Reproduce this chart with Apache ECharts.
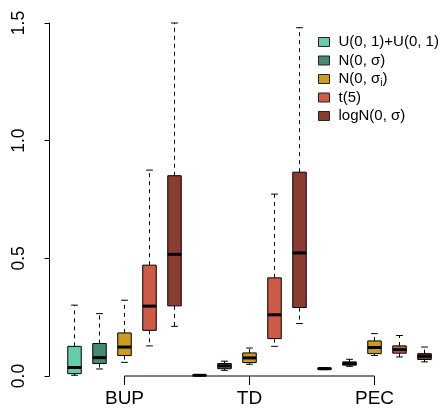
<!DOCTYPE html>
<html>
<head>
<meta charset="utf-8">
<script src="https://cdn.jsdelivr.net/npm/echarts@6/dist/echarts.min.js"></script>
<style>
  html, body { margin: 0; padding: 0; background: #fff; }
  #main { width: 443px; height: 410px; }
</style>
</head>
<body>
<div id="main"></div>
<script>
// groups on the x axis, five distributions per group
var groups = ['BUP', 'TD', 'PEC'];
var distNames = ['U(0, 1)+U(0, 1)', 'N(0, σ)', 'N(0, σi)', 't(5)', 'logN(0, σ)'];
var distColors = ['#66CDAA', '#458B74', '#CD9B1D', '#CD5B45', '#8B3C30'];

// [lower whisker, q1, median, q3, upper whisker] for BUP, TD, PEC
var statsU    = [[0.003, 0.010, 0.036, 0.126, 0.301], [0.001, 0.002, 0.003, 0.005, 0.006], [0.027, 0.029, 0.031, 0.034, 0.036]];
var statsN    = [[0.030, 0.053, 0.078, 0.138, 0.265], [0.024, 0.031, 0.043, 0.053, 0.063], [0.041, 0.046, 0.053, 0.060, 0.071]];
var statsNi   = [[0.058, 0.087, 0.123, 0.183, 0.322], [0.050, 0.057, 0.077, 0.098, 0.119], [0.087, 0.095, 0.121, 0.149, 0.180]];
var statsT    = [[0.128, 0.194, 0.297, 0.471, 0.875], [0.126, 0.159, 0.260, 0.417, 0.773], [0.081, 0.097, 0.112, 0.128, 0.172]];
var statsLogN = [[0.211, 0.298, 0.517, 0.851, 1.500], [0.223, 0.291, 0.523, 0.866, 1.480], [0.060, 0.070, 0.084, 0.095, 0.123]];
var allStats = [statsU, statsN, statsNi, statsT, statsLogN];

var nDist = distNames.length;
// box position on the x axis: 1..15
var groupCenters = groups.map(function (g, gi) { return gi * nDist + 3; });

var boxWidth = 0.54;
var fontFam = 'Liberation Sans, Arial, sans-serif';

var renderBox = function (params, api) {
  var x = api.value(0);
  var lo = api.coord([x, api.value(1)]);
  var q1 = api.coord([x, api.value(2)]);
  var med = api.coord([x, api.value(3)]);
  var q3 = api.coord([x, api.value(4)]);
  var hi = api.coord([x, api.value(5)]);
  var w = api.size([boxWidth, 0])[0];
  var cx = lo[0];
  var capW = w / 2;
  var dash = { stroke: '#000', lineWidth: 1, lineDash: [4, 4] };
  var solid = { stroke: '#000', lineWidth: 1 };
  return {
    type: 'group',
    children: [
      { type: 'line', shape: { x1: cx, y1: q3[1], x2: cx, y2: hi[1] }, style: dash },
      { type: 'line', shape: { x1: cx, y1: q1[1], x2: cx, y2: lo[1] }, style: dash },
      { type: 'line', shape: { x1: cx - capW / 2, y1: hi[1], x2: cx + capW / 2, y2: hi[1] }, style: solid },
      { type: 'line', shape: { x1: cx - capW / 2, y1: lo[1], x2: cx + capW / 2, y2: lo[1] }, style: solid },
      { type: 'rect', shape: { x: cx - w / 2, y: q3[1], width: w, height: q1[1] - q3[1] },
        style: { fill: api.visual('color'), stroke: '#000', lineWidth: 1 } },
      { type: 'line', shape: { x1: cx - w / 2, y1: med[1], x2: cx + w / 2, y2: med[1] },
        style: { stroke: '#000', lineWidth: 3 } }
    ]
  };
};

var series = distNames.map(function (name, di) {
  return {
    name: name,
    type: 'custom',
    color: distColors[di],
    clip: false,
    renderItem: renderBox,
    encode: { x: 0, y: [1, 2, 3, 4, 5] },
    data: allStats[di].map(function (s, gi) {
      return [gi * nDist + di + 1].concat(s);
    })
  };
});

// x axis line only spans from the first to the last group label, as in base R
series.push({
  type: 'line',
  silent: true,
  clip: false,
  symbol: 'none',
  lineStyle: { color: '#000', width: 1 },
  data: [[groupCenters[0], 0], [groupCenters[groupCenters.length - 1], 0]]
});

var chart = echarts.init(document.getElementById('main'));
chart.setOption({
  animation: false,
  backgroundColor: '#fff',
  grid: { left: 43, right: 0, top: 23, bottom: 34, containLabel: false },
  xAxis: {
    type: 'value',
    min: -0.26,
    max: 15.74,
    splitLine: { show: false },
    axisLine: { show: false },
    axisTick: { show: true, customValues: groupCenters, length: 9, lineStyle: { color: '#000' } },
    axisLabel: {
      customValues: groupCenters,
      margin: 13,
      color: '#000',
      fontSize: 19,
      fontFamily: fontFam,
      formatter: function (v) { return groups[groupCenters.indexOf(v)] || ''; }
    }
  },
  yAxis: {
    type: 'value',
    min: 0,
    max: 1.5,
    interval: 0.5,
    splitLine: { show: false },
    axisLine: { show: true, lineStyle: { color: '#000' } },
    axisTick: { show: true, length: 5, lineStyle: { color: '#000' } },
    axisLabel: {
      rotate: 90,
      margin: 15,
      color: '#000',
      fontSize: 17.5,
      fontFamily: fontFam,
      formatter: function (v) { return v.toFixed(1); }
    }
  },
  legend: {
    orient: 'vertical',
    left: 313,
    top: 28,
    itemWidth: 11,
    itemHeight: 9,
    itemGap: 0.5,
    icon: 'rect',
    data: distNames,
    itemStyle: { borderColor: '#222', borderWidth: 1 },
    textStyle: {
      color: '#000',
      fontSize: 15,
      lineHeight: 18,
      fontFamily: fontFam,
      padding: [0, 0, 0, 4],
      rich: {
        sub: { fontSize: 10, lineHeight: 18, verticalAlign: 'bottom', fontFamily: fontFam, color: '#000' }
      }
    },
    formatter: function (name) {
      return name === 'N(0, σi)' ? 'N(0, σ{sub|i})' : name;
    }
  },
  series: series
});
</script>
</body>
</html>
